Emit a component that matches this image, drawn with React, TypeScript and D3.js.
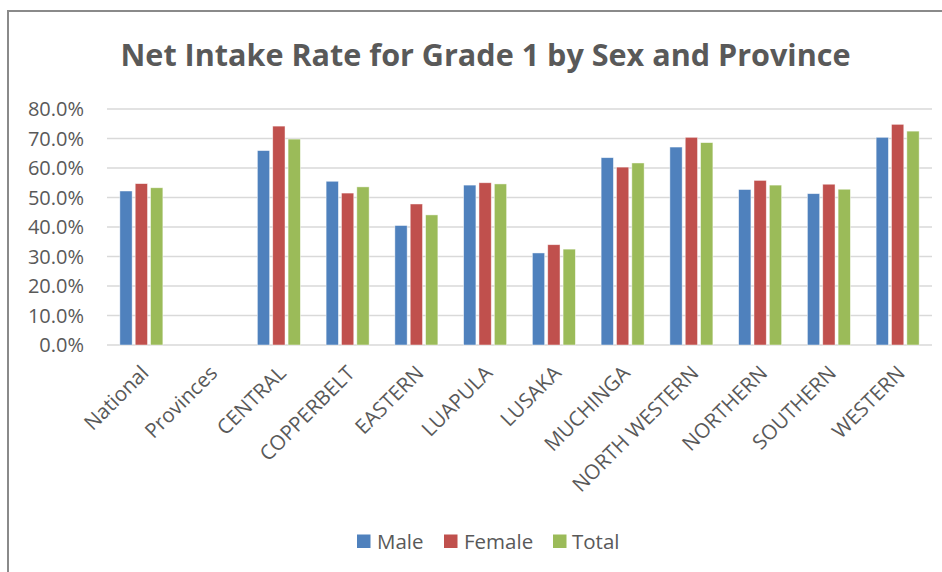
import React from "react";
import * as d3 from "d3";

const categories = ["National", "Provinces", "CENTRAL", "COPPERBELT", "EASTERN", "LUAPULA", "LUSAKA", "MUCHINGA", "NORTH WESTERN", "NORTHERN", "SOUTHERN", "WESTERN"];
const seriesNames = ["Male", "Female", "Total"];
const male: (number | null)[] = [52.2, null, 65.9, 55.5, 40.5, 54.2, 31.2, 63.5, 67.1, 52.7, 51.3, 70.4];
const female: (number | null)[] = [54.7, null, 74.2, 51.5, 47.8, 55.0, 34.0, 60.3, 70.4, 55.8, 54.5, 74.8];
const total: (number | null)[] = [53.3, null, 69.8, 53.6, 44.1, 54.6, 32.5, 61.7, 68.6, 54.2, 52.8, 72.5];
const yTicks = [0, 10, 20, 30, 40, 50, 60, 70, 80];
const colors = ["#4f81bd", "#c0504d", "#9bbb59"];
const title = "Net Intake Rate for Grade 1 by Sex and Province";

const W = 942;
const H = 572;
const plotLeft = 107;
const plotRight = 932;
const yTop = 109;
const yBottom = 345;
const font = "'Open Sans', 'Noto Sans', sans-serif";
const textColor = "#595959";

export default function App() {
  const seriesData = [male, female, total];
  const x0 = d3.scaleBand<string>().domain(categories).range([plotLeft, plotRight]).paddingInner(0.3745).paddingOuter(0.187);
  const x1 = d3.scaleBand<string>().domain(seriesNames).range([0, x0.bandwidth()]).paddingInner(0.2).paddingOuter(0);
  const y = d3.scaleLinear().domain([0, 80]).range([yBottom, yTop]);

  const legendItems = [
    { name: "Male", sx: 357, tx: 377 },
    { name: "Female", sx: 444, tx: 464 },
    { name: "Total", sx: 553, tx: 572 },
  ];

  return (
    <svg width={W} height={H} style={{ position: "absolute", left: 0, top: 0, background: "#fff" }}>
      <rect x={0} y={0} width={W} height={H} fill="#fff" />
      <rect x={8} y={11} width={W + 10} height={H + 10} fill="none" stroke="#8a8a8a" strokeWidth={2} />
      <text x={120.5} y={66} textLength={730} lengthAdjust="spacingAndGlyphs" fontFamily={font} fontWeight={700} fontSize={31} fill={textColor}>{title}</text>
      {yTicks.map((t) => (
        <g key={t}>
          <line x1={plotLeft} x2={plotRight} y1={y(t)} y2={y(t)} stroke="#d9d9d9" strokeWidth={1.4} />
          <text x={84} y={y(t)} dy="0.36em" textAnchor="end" fontFamily={font} fontSize={20} fill={textColor}>{t.toFixed(1) + "%"}</text>
        </g>
      ))}
      {categories.map((c, i) => (
        <g key={c} transform={`translate(${x0(c)},0)`}>
          {seriesNames.map((s, j) => {
            const v = seriesData[j][i];
            if (v == null) return null;
            return (
              <rect key={s} x={x1(s)} y={y(v)} width={x1.bandwidth()} height={y(0) - y(v)} fill={colors[j]} stroke="#fff" strokeOpacity={0.6} strokeWidth={0.75} />
            );
          })}
        </g>
      ))}
      {categories.map((c) => {
        const cx = (x0(c) as number) + x0.bandwidth() / 2;
        return (
          <text key={c} transform={`translate(${cx - 2},${364}) rotate(-45)`} dy="0.72em" textAnchor="end" fontFamily={font} fontSize={20.5} fill={textColor}>{c}</text>
        );
      })}
      {legendItems.map((l, j) => (
        <g key={l.name}>
          <rect x={l.sx} y={534.5} width={13.5} height={13.5} fill={colors[j]} />
          <text x={l.tx} y={548.5} fontFamily={font} fontSize={20.5} fill={textColor}>{l.name}</text>
        </g>
      ))}
    </svg>
  );
}
